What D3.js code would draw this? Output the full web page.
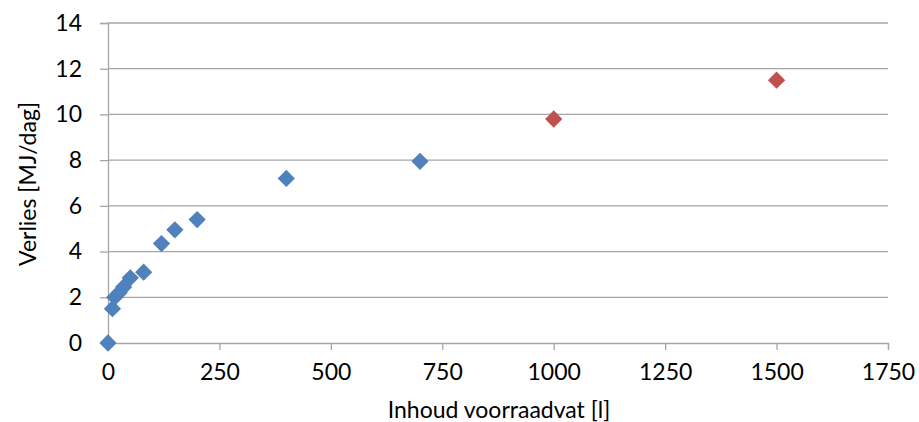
<!DOCTYPE html>
<html><head><meta charset="utf-8">
<script src="https://cdn.jsdelivr.net/npm/d3@7"></script>
<style>body{margin:0;background:#fff}svg{display:block}text{font-family:Lato,sans-serif;fill:#000}</style>
</head><body><svg id="c" width="919" height="422"></svg>
<script>
const blueX = [0, 10, 15, 25, 35, 50, 80, 120, 150, 200, 400, 700];
const blueY = [0, 1.5, 2.0, 2.2, 2.45, 2.85, 3.1, 4.35, 4.95, 5.4, 7.2, 7.95];
const redX = [1000, 1500];
const redY = [9.8, 11.5];
const xTicks = [0, 250, 500, 750, 1000, 1250, 1500, 1750];
const yTicks = [0, 2, 4, 6, 8, 10, 12, 14];
const xTitle = "Inhoud voorraadvat [l]";
const yTitle = "Verlies [MJ/dag]";

const FS = "23px";
const svg = d3.select("#c");
const L = 108, R = 888, T = 23, B = 343;
const x = d3.scaleLinear().domain([0, 1750]).range([L, R]);
const y = d3.scaleLinear().domain([0, 14]).range([B, T]);

svg.append("g").selectAll("line").data(yTicks.filter(d => d > 0)).join("line")
  .attr("x1", L).attr("x2", R).attr("y1", d => y(d)).attr("y2", d => y(d))
  .attr("stroke", "#a6a6a6").attr("stroke-width", 1.3);

const gx = svg.append("g").attr("transform", `translate(0,${B})`)
  .call(d3.axisBottom(x).tickValues(xTicks).tickSize(7).tickPadding(14).tickFormat(d3.format("d")));
const gy = svg.append("g").attr("transform", `translate(${L},0)`)
  .call(d3.axisLeft(y).tickValues(yTicks).tickSize(8).tickPadding(18).tickFormat(d3.format("d")));
[gx, gy].forEach(g => {
  g.select(".domain").attr("stroke", "#a6a6a6").attr("stroke-width", 1.3);
  g.selectAll(".tick line").attr("stroke", "#a6a6a6").attr("stroke-width", 1.3);
  g.selectAll("text").style("font-size", FS).style("font-family", "Lato,sans-serif").attr("fill", "#000");
});

const diamond = d3.symbol().type(d3.symbolDiamond2).size(190);
function plot(xs, ys, color) {
  svg.append("g").selectAll("path").data(xs.map((v, i) => [v, ys[i]])).join("path")
    .attr("d", diamond)
    .attr("transform", d => `translate(${x(d[0])},${y(d[1])})`)
    .attr("fill", color);
}
plot(blueX, blueY, "#4f81bd");
plot(redX, redY, "#c0504d");

svg.append("text").attr("x", 499).attr("y", 418).attr("text-anchor", "middle")
  .style("font-size", FS).text(xTitle);
svg.append("text").attr("transform", `translate(36,184) rotate(-90)`)
  .attr("text-anchor", "middle").style("font-size", FS).text(yTitle);
</script></body></html>
